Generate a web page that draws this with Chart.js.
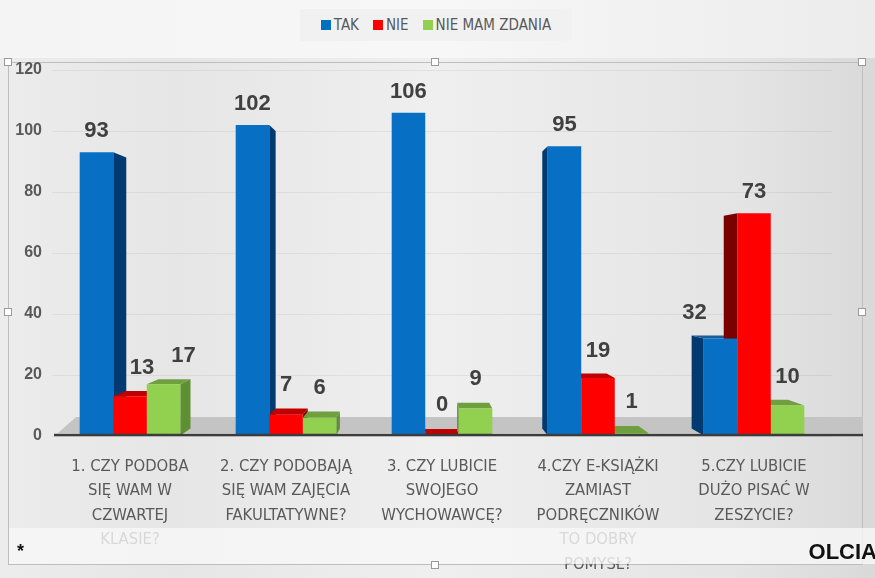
<!DOCTYPE html>
<html>
<head>
<meta charset="utf-8">
<script src="https://cdn.jsdelivr.net/npm/chart.js@4.4.1/dist/chart.umd.min.js"></script>
<style>
  html, body { margin: 0; padding: 0; }
  body { width: 875px; height: 578px; overflow: hidden; position: relative;
    background: linear-gradient(90deg, #ececec 0%, #e6e6e6 20%, #efefef 50%, #e4e4e4 85%, #d9d9d9 100%); }
  #top { position: absolute; left: 0; top: 0; width: 875px; height: 58px;
    background: linear-gradient(90deg, #f4f4f4, #f7f7f7 50%, #ececec); }
  #frame { position: absolute; left: 8px; top: 62px; width: 855px; height: 503px;
    border: 1px solid #bdbdbd; box-sizing: border-box; }
  .h { position: absolute; width: 6px; height: 6px; background: #fff; border: 1px solid #9a9a9a; }
  #wrap { position: absolute; left: 0; top: 0; width: 875px; height: 578px; }
  #legend { position: absolute; top: 9px; left: 300px; width: 272px; height: 32px;
    background: #f1f1f1; display: flex; align-items: center; justify-content: center; gap: 14px;
    font: 15px 'DejaVu Sans Condensed', 'Liberation Sans Narrow', 'Liberation Sans', sans-serif; color: #595959; }
  #legend span { display: flex; align-items: center; }
  #legend i { display: inline-block; width: 10px; height: 10px; margin-right: 3px; }
  #band { position: absolute; left: 9px; top: 528px; width: 866px; height: 36px;
    background: rgba(247,247,247,0.8); }
  #star { position: absolute; left: 17px; top: 541px; font: bold 18px 'Liberation Sans', Arial, sans-serif; color: #111; }
  #olcia { position: absolute; right: -2px; top: 539px; font: bold 22px 'Liberation Sans', Arial, sans-serif; color: #111; }
</style>
</head>
<body>
<div id="top"></div>
<div id="frame"></div>
<div class="h" style="left:4px;top:58px"></div>
<div class="h" style="left:431px;top:58px"></div>
<div class="h" style="left:858px;top:58px"></div>
<div class="h" style="left:4px;top:308px"></div>
<div class="h" style="left:858px;top:308px"></div>
<div id="wrap"><canvas id="c" width="875" height="578"></canvas></div>
<div id="legend">
  <span><i style="background:#0070c0"></i>TAK</span>
  <span><i style="background:#ff0000"></i>NIE</span>
  <span><i style="background:#92d050"></i>NIE MAM ZDANIA</span>
</div>
<div id="band"></div>
<div class="h" style="left:431px;top:561px"></div>
<div id="star">*</div>
<div id="olcia">OLCIA</div>
<script>
const categories = [
  ['1. CZY PODOBA', 'SIĘ WAM W', 'CZWARTEJ', 'KLASIE?'],
  ['2. CZY PODOBAJĄ', 'SIĘ WAM ZAJĘCIA', 'FAKULTATYWNE?'],
  ['3. CZY LUBICIE', 'SWOJEGO', 'WYCHOWAWCĘ?'],
  ['4.CZY E-KSIĄŻKI', 'ZAMIAST', 'PODRĘCZNIKÓW', 'TO DOBRY', 'POMYSŁ?'],
  ['5.CZY LUBICIE', 'DUŻO PISAĆ W', 'ZESZYCIE?']
];
const seriesNames = ['TAK', 'NIE', 'NIE MAM ZDANIA'];
const tak = [93, 102, 106, 95, 32];
const nie = [13, 7, 0, 19, 73];
const nieMamZdania = [17, 6, 9, 1, 10];
const yTicks = [0, 20, 40, 60, 80, 100, 120];

const frontColors = ['#0870c4', '#ff0000', '#92d050'];
const sideColors = ['#003a70', '#7a0000', '#5e8f33'];
const topColors = ['#1a5c9c', '#c00000', '#6f9f3f'];

const condensed = "'DejaVu Sans Condensed', 'Liberation Sans Narrow', 'Liberation Sans', sans-serif";

// perspective: vanishing point and depth of the bars
const VP = { x: 420, y: 271 };
const DEPTH = 0.0425;

function barBox(bar) {
  const p = bar.getProps(['x', 'y', 'base', 'width'], true);
  return { L: p.x - p.width / 2, R: p.x + p.width / 2, T: Math.min(p.y, p.base), B: Math.max(p.y, p.base) };
}
function back(x, y) {
  return [x + DEPTH * (VP.x - x), y + DEPTH * (VP.y - y)];
}
function quad(ctx, pts, color) {
  ctx.beginPath();
  ctx.moveTo(pts[0][0], pts[0][1]);
  for (let i = 1; i < pts.length; i++) ctx.lineTo(pts[i][0], pts[i][1]);
  ctx.closePath();
  ctx.fillStyle = color;
  ctx.fill();
}

const bars3d = {
  id: 'bars3d',
  beforeDatasetsDraw(chart) {
    const ctx = chart.ctx;
    const a = chart.chartArea;
    ctx.save();
    // floor
    quad(ctx, [[a.left + 6, a.bottom - 3], [a.right + 31, a.bottom - 3], [a.right + 31, a.bottom - 19], [a.left + 24, a.bottom - 19]], '#c4c4c4');
    // side and top faces of every bar, drawn before any front face
    chart.data.datasets.forEach((ds, di) => {
      chart.getDatasetMeta(di).data.forEach(bar => {
        const b = barBox(bar);
        const lt = back(b.L, b.T), rt = back(b.R, b.T), lb = back(b.L, b.B), rb = back(b.R, b.B);
        if (b.R < VP.x) quad(ctx, [[b.R, b.T], rt, rb, [b.R, b.B]], sideColors[di]);
        else if (b.L > VP.x) quad(ctx, [[b.L, b.T], lt, lb, [b.L, b.B]], sideColors[di]);
        if (b.T > VP.y) quad(ctx, [[b.L, b.T], [b.R, b.T], rt, lt], topColors[di]);
      });
    });
    ctx.restore();
  },
  afterDatasetsDraw(chart, args, opts) {
    const ctx = chart.ctx;
    const a = chart.chartArea;
    ctx.save();
    ctx.strokeStyle = '#3c3c3c';
    ctx.lineWidth = 2.5;
    ctx.beginPath();
    ctx.moveTo(a.left + 2, a.bottom - 1);
    ctx.lineTo(a.right + 31, a.bottom - 1);
    ctx.stroke();
    // value labels
    ctx.font = "bold 22px 'Liberation Sans', Arial, sans-serif";
    ctx.fillStyle = '#404040';
    ctx.textAlign = 'center';
    ctx.textBaseline = 'middle';
    chart.data.datasets.forEach((ds, di) => {
      chart.getDatasetMeta(di).data.forEach((bar, i) => {
        const b = barBox(bar);
        const dyTop = DEPTH * (VP.y - b.T);
        const shift = (opts.shifts || []).find(s => s.ds === di && s.i === i);
        const x = (b.L + b.R) / 2 + (shift ? shift.dx : 0);
        const y = b.T - 21 + 1.4 * Math.min(0, dyTop);
        ctx.fillText(String(ds.data[i]), x, y);
      });
    });
    ctx.restore();
  }
};

new Chart(document.getElementById('c'), {
  type: 'bar',
  data: {
    labels: categories,
    datasets: [
      { label: seriesNames[0], data: tak, backgroundColor: frontColors[0] },
      { label: seriesNames[1], data: nie, backgroundColor: frontColors[1] },
      { label: seriesNames[2], data: nieMamZdania, backgroundColor: frontColors[2] }
    ]
  },
  options: {
    responsive: false,
    animation: false,
    layout: { padding: { top: 70, right: 43, left: 0, bottom: 0 } },
    datasets: { bar: { categoryPercentage: 0.645, barPercentage: 1.0, borderWidth: 0 } },
    plugins: {
      legend: { display: false },
      tooltip: { enabled: false },
      bars3d: { shifts: [{ ds: 1, i: 0, dx: 12 }, { ds: 2, i: 0, dx: 20 }, { ds: 0, i: 4, dx: -26 }] }
    },
    scales: {
      x: {
        grid: { display: false },
        border: { display: false },
        afterFit: s => { s.height = 142; },
        ticks: {
          color: '#595959',
          padding: 10,
          maxRotation: 0,
          autoSkip: false,
          font: { family: condensed, size: 16.5, lineHeight: 1.485 }
        }
      },
      y: {
        min: 0,
        max: 120,
        afterFit: s => { s.width = 52; },
        afterBuildTicks: s => { s.ticks = yTicks.map(v => ({ value: v })); },
        grid: { color: 'rgba(0,0,0,0.055)', drawTicks: false },
        border: { display: false },
        ticks: {
          color: '#595959',
          padding: 10,
          font: { family: "'Liberation Sans', Arial, sans-serif", size: 16, weight: 'bold' }
        }
      }
    }
  },
  plugins: [bars3d]
});
</script>
</body>
</html>
